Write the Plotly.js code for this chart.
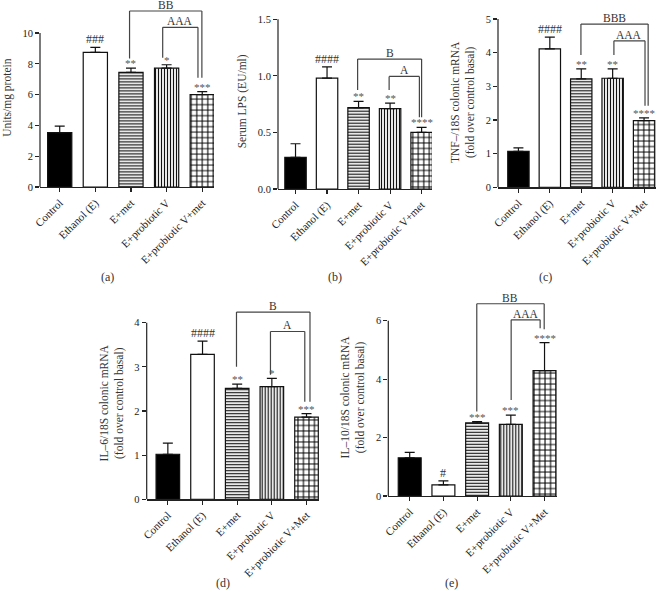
<!DOCTYPE html>
<html><head><meta charset="utf-8">
<script src="https://cdn.plot.ly/plotly-3.0.1.min.js"></script>
<style>html,body{margin:0;padding:0;background:#fff}#chart{width:660px;height:592px}</style>
</head><body><div id="chart"></div>
<script>
// ---- data ----
const groupsLower = ['Control', 'Ethanol (E)', 'E+met', 'E+probiotic V', 'E+probiotic V+met'];
const groupsUpper = ['Control', 'Ethanol (E)', 'E+met', 'E+probiotic V', 'E+probiotic V+Met'];

const mpoValues = [3.53, 8.75, 7.45, 7.72, 6.0];
const mpoErrors = [0.43, 0.32, 0.27, 0.22, 0.2];
const mpoMarks  = ['', '###', '**', '*', '***'];

const lpsValues = [0.28, 0.98, 0.72, 0.71, 0.50];
const lpsErrors = [0.12, 0.10, 0.055, 0.05, 0.045];
const lpsMarks  = ['', '####', '**', '**', '****'];

const tnfValues = [1.07, 4.11, 3.22, 3.24, 1.98];
const tnfErrors = [0.10, 0.35, 0.30, 0.28, 0.08];
const tnfMarks  = ['', '####', '**', '**', '****'];

const il6Values = [1.02, 3.28, 2.51, 2.55, 1.86];
const il6Errors = [0.25, 0.30, 0.10, 0.19, 0.08];
const il6Marks  = ['', '####', '**', '*', '***'];

const il10Values = [1.31, 0.38, 2.50, 2.45, 4.29];
const il10Errors = [0.18, 0.14, 0.05, 0.32, 0.96];
const il10Marks  = ['', '#', '***', '***', '****'];

const mpoTicks = [0, 2, 4, 6, 8, 10];
const lpsTicks = [0, 0.5, 1.0, 1.5];
const tnfTicks = [0, 1, 2, 3, 4, 5];
const il6Ticks = [0, 1, 2, 3, 4];
const il10Ticks = [0, 2, 4, 6];

// ---- layout config ----
const FONT = 'Liberation Serif, Times New Roman, serif';
const panels = [
  {id: '',  label: '(a)', cats: groupsLower, vals: mpoValues, errs: mpoErrors, marks: mpoMarks, ticks: mpoTicks, fmt: '',
   title: 'Units/mg protein', yTop: 11.6, xRange: [-0.553, 4.33],
   xDom: [40, 214], yDom: [187, 8.4], labelPos: [107, 277],
   brackets: [{x0: 1.96, x1: 3.99, top: 11.43, l: 8.35, r: 7.1, t: 'BB'},
              {x0: 2.89, x1: 3.88, top: 10.37, l: 8.4, r: 7.1, t: 'AAA'}]},
  {id: '2', label: '(b)', cats: groupsLower, vals: lpsValues, errs: lpsErrors, marks: lpsMarks, ticks: lpsTicks, fmt: '.1f',
   title: 'Serum LPS (EU/ml)', yTop: 1.55, xRange: [-0.556, 4.33],
   xDom: [278, 432], yDom: [189, 13.7], labelPos: [335, 277],
   brackets: [{x0: 1.97, x1: 4.0, top: 1.149, l: 0.876, r: 0.634, t: 'B'},
              {x0: 2.97, x1: 3.93, top: 0.995, l: 0.876, r: 0.634, t: 'A'}]},
  {id: '3', label: '(c)', cats: groupsUpper, vals: tnfValues, errs: tnfErrors, marks: tnfMarks, ticks: tnfTicks, fmt: '',
   title: 'TNF–/18S colonic mRNA<br>(fold over control basal)', yTop: 5.05, xRange: [-0.65, 4.38],
   xDom: [498, 656], yDom: [187.3, 17.3], labelPos: [545, 277],
   brackets: [{x0: 1.99, x1: 4.13, top: 4.85, l: 3.93, r: 2.42, t: 'BBB'},
              {x0: 3.04, x1: 4.03, top: 4.35, l: 3.93, r: 2.42, t: 'AAA'}]},
  {id: '4', label: '(d)', cats: groupsUpper, vals: il6Values, errs: il6Errors, marks: il6Marks, ticks: il6Ticks, fmt: '',
   title: 'IL–6/18S colonic mRNA<br>(fold over control basal)', yTop: 4.35, xRange: [-0.61, 4.36],
   xDom: [146.7, 319], yDom: [499.3, 307.2], labelPos: [222.7, 583],
   brackets: [{x0: 1.98, x1: 4.10, top: 4.24, l: 3.0, r: 2.21, t: 'B'},
              {x0: 2.96, x1: 3.95, top: 3.80, l: 2.82, r: 2.21, t: 'A'}]},
  {id: '5', label: '(e)', cats: groupsUpper, vals: il10Values, errs: il10Errors, marks: il10Marks, ticks: il10Ticks, fmt: '',
   title: 'IL–10/18S colonic mRNA<br>(fold over control basal)', yTop: 6.75, xRange: [-0.635, 4.37],
   xDom: [388.3, 557], yDom: [496, 298.8], labelPos: [451.7, 583],
   brackets: [{x0: 1.99, x1: 3.99, top: 6.58, l: 2.89, r: 5.71, t: 'BB'},
              {x0: 3.01, x1: 3.87, top: 6.03, l: 3.29, r: 5.74, t: 'AAA'}]}
];

const W = 660, H = 592;
// in 'replace' mode the per-bar marker colour is the pattern's line colour
const fills = ['#000000', '#ffffff', '#111111', '#111111', '#000000'];
const patShapes = ['', '', '-', '|', '+'];
const patSizes = [6, 6, 3, 3, 5.5];
const patSolid = [0.2, 0.2, 0.4, 0.4, 0.34];

const traces = [];
const layout = {
  width: W, height: H,
  margin: {l: 0, r: 0, t: 0, b: 0},
  paper_bgcolor: '#fff', plot_bgcolor: 'rgba(0,0,0,0)',
  showlegend: false,
  bargap: 0.32,
  font: {family: FONT, color: '#222'},
  shapes: [], annotations: []
};

panels.forEach(p => {
  const xa = 'x' + p.id, ya = 'y' + p.id;
  traces.push({
    type: 'bar', x: p.cats, y: p.vals, xaxis: xa, yaxis: ya,
    marker: {
      color: fills,
      line: {color: '#111', width: 1.2},
      pattern: {shape: patShapes, size: patSizes, solidity: patSolid, fillmode: 'replace'}
    },
    error_y: {type: 'data', symmetric: false, array: p.errs, arrayminus: p.errs.map(() => 0),
              color: '#111', thickness: 1.2, width: 5},
    hoverinfo: 'skip'
  });
  layout['xaxis' + p.id] = {
    domain: [p.xDom[0] / W, p.xDom[1] / W], anchor: ya, type: 'category',
    range: p.xRange, showline: true, linecolor: '#222', linewidth: 1.2,
    ticks: 'outside', ticklen: 4, tickwidth: 1.1, tickcolor: '#222',
    tickangle: -45, tickfont: {family: FONT, size: 11, color: '#222'},
    showgrid: false, zeroline: false, fixedrange: true
  };
  layout['yaxis' + p.id] = {
    domain: [1 - p.yDom[0] / H, 1 - p.yDom[1] / H], anchor: xa,
    range: [0, p.yTop], showline: false,
    tickmode: 'array', tickvals: p.ticks, tickformat: p.fmt,
    ticks: 'outside', ticklen: 4, tickwidth: 1.1, tickcolor: '#222',
    tickfont: {family: FONT, size: 10.5, color: '#222'},
    showgrid: false, zeroline: false, fixedrange: true,
    title: {text: p.title, font: {family: FONT, size: 11.5, color: '#333'}, standoff: 8}
  };
  // y axis line only up to the last tick
  layout.shapes.push({type: 'line', xref: xa + ' domain', yref: ya, x0: 0, x1: 0,
    y0: 0, y1: p.ticks[p.ticks.length - 1], line: {color: '#222', width: 1.2}});
  // significance marks
  p.marks.forEach((m, i) => {
    if (!m) return;
    const hash = m[0] === '#';
    layout.annotations.push({xref: xa, yref: ya, x: p.cats[i], y: p.vals[i] + p.errs[i],
      text: m, showarrow: false, yanchor: 'bottom', yshift: hash ? -1 : -3,
      font: {family: FONT, size: hash ? 12 : 11, color: hash ? '#333' : '#555'}});
  });
  // comparison brackets
  p.brackets.forEach(b => {
    const ln = {color: '#444', width: 1.2};
    layout.shapes.push({type: 'line', xref: xa, yref: ya, x0: b.x0, x1: b.x0, y0: b.l, y1: b.top, line: ln});
    layout.shapes.push({type: 'line', xref: xa, yref: ya, x0: b.x0, x1: b.x1, y0: b.top, y1: b.top, line: ln});
    layout.shapes.push({type: 'line', xref: xa, yref: ya, x0: b.x1, x1: b.x1, y0: b.top, y1: b.r, line: ln});
    layout.annotations.push({xref: xa, yref: ya, x: (b.x0 + b.x1) / 2, y: b.top, text: b.t,
      showarrow: false, yanchor: 'bottom', yshift: -2,
      font: {family: FONT, size: 11.5, color: '#333'}});
  });
  // panel letter
  layout.annotations.push({xref: 'paper', yref: 'paper', x: p.labelPos[0] / W, y: 1 - p.labelPos[1] / H,
    text: p.label, showarrow: false, xanchor: 'center', yanchor: 'middle',
    font: {family: FONT, size: 12, color: '#333'}});
});

Plotly.newPlot('chart', traces, layout, {staticPlot: true, displayModeBar: false});
</script>
</body></html>
